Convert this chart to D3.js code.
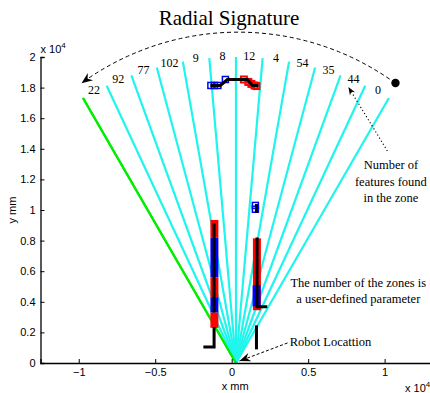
<!DOCTYPE html>
<html>
<head>
<meta charset="utf-8">
<script src="https://cdn.jsdelivr.net/npm/d3@7"></script>
<style>
  html, body { margin: 0; padding: 0; background: #fff; }
  svg { display: block; }
</style>
</head>
<body>
<script>
// ---------------- data (units: x 10^4 mm) ----------------
const xTicks = [-1, -0.5, 0, 0.5, 1];
const yTicks = [0, 0.2, 0.4, 0.6, 0.8, 1, 1.2, 1.4, 1.6, 1.8, 2];
const robot = [0.028, 0];
const rayRange = 2.0;
// zone boundary angles (degrees), left to right
const rayAngles = [120, 115, 110, 105, 100, 95, 90, 85, 80, 75, 70, 65, 60];
// number of features found in each zone, left to right
const zoneCounts = [22, 92, 77, 102, 9, 8, 12, 4, 54, 35, 44, 0];

// map walls (black)
const walls = [
  [[-0.139, 1.814], [-0.074, 1.814], [-0.028, 1.853], [0.103, 1.853], [0.136, 1.814], [0.175, 1.814]],
  [[-0.115, 0.912], [-0.115, 0.33]],
  [[-0.115, 0.235], [-0.115, 0.105], [-0.185, 0.105]],
  [[0.166, 0.821], [0.166, 0.368], [0.233, 0.368]],
  [[0.162, 0.246], [0.162, 0.089]],
  [[0.162, 1.039], [0.162, 0.980]]
];
// dense scan point clusters along the walls: [x, yTop, yBottom, colour]
const scanBands = [
  [-0.113, 0.935, 0.82, "red"],
  [-0.113, 0.82, 0.56, "blue"],
  [-0.113, 0.56, 0.43, "red"],
  [-0.113, 0.43, 0.33, "blue"],
  [-0.113, 0.33, 0.23, "red"],
  [0.165, 0.815, 0.345, "red"],
  [0.163, 0.507, 0.37, "blue"]
];
// individual scan points (square markers)
const bluePoints = [[-0.136, 1.814], [-0.113, 1.814], [-0.090, 1.814], [-0.041, 1.853], [0.155, 1.030], [0.155, 1.005]];
const redPoints = [[0.080, 1.853], [0.109, 1.837], [0.129, 1.824], [0.149, 1.814], [0.162, 1.810]];

// annotations
const sweepArc = { cx: 0.044, cy: 0.418, r: 1.745, a0: 54, a1: 126 };
const sweepDot = [1.071, 1.830];
const featArrow = [[1.018, 1.386], [0.763, 1.804]];
const robotArrow = [[0.365, 0.131], [0.051, 0.013]];
const featText = { pos: [1.041, 1.265], lines: ["Number of", "features found", "in the zone"] };
const zonesText = { pos: [0.828, 0.497], lines: ["The number of the zones is", "a user-defined parameter"] };
const robotText = { pos: [0.379, 0.111], lines: ["Robot Locattion"] };

// ---------------- drawing ----------------
const W = 430, H = 393;
const svg = d3.select("body").append("svg").attr("width", W).attr("height", H);
const x = d3.scaleLinear().domain([-1.25, 1.3]).range([40.5, 430.5]);
const y = d3.scaleLinear().domain([0, 2]).range([363, 57]);
const pxPerUnit = x(1) - x(0);
const serif = "'Liberation Serif', 'Times New Roman', serif";
const sans = "'Liberation Sans', Arial, Helvetica, sans-serif";

const defs = svg.append("defs");
defs.append("marker").attr("id", "ah").attr("markerUnits", "userSpaceOnUse")
  .attr("viewBox", "-12 -6 14 12").attr("markerWidth", 14).attr("markerHeight", 12)
  .attr("refX", 0).attr("refY", 0).attr("orient", "auto")
  .append("path").attr("d", "M0,0 L-11,-4.5 L-7.5,0 L-11,4.5 Z").attr("fill", "#000");
defs.append("marker").attr("id", "ahs").attr("markerUnits", "userSpaceOnUse")
  .attr("viewBox", "-10 -5 12 10").attr("markerWidth", 12).attr("markerHeight", 10)
  .attr("refX", 0).attr("refY", 0).attr("orient", "auto")
  .append("path").attr("d", "M0,0 L-8,-3 L-5.5,0 L-8,3 Z").attr("fill", "#000");

// title
svg.append("text").attr("x", 229).attr("y", 25).attr("text-anchor", "middle")
  .attr("font-family", serif).attr("font-size", 21).attr("fill", "#000").text("Radial Signature");

// rays
const rad = d => d * Math.PI / 180;
const rayEnd = a => [robot[0] + rayRange * Math.cos(rad(a)), robot[1] + rayRange * Math.sin(rad(a))];
svg.append("g").selectAll("line").data(rayAngles).join("line")
  .attr("x1", x(robot[0])).attr("y1", y(robot[1]))
  .attr("x2", a => x(rayEnd(a)[0])).attr("y2", a => y(rayEnd(a)[1]))
  .attr("stroke", (a, i) => i === 0 ? "#00ee00" : "#1ff5ec")
  .attr("stroke-width", 2.2);
// redraw green on top
svg.append("line").attr("x1", x(robot[0])).attr("y1", y(robot[1]))
  .attr("x2", x(rayEnd(rayAngles[0])[0])).attr("y2", y(rayEnd(rayAngles[0])[1]))
  .attr("stroke", "#00ee00").attr("stroke-width", 2.2);

// zone labels
const labR = 2.01;
svg.append("g").selectAll("text").data(zoneCounts).join("text")
  .attr("x", (c, i) => { const a = (rayAngles[i] + rayAngles[i + 1]) / 2; return x(robot[0] + labR * Math.cos(rad(a))); })
  .attr("y", (c, i) => { const a = (rayAngles[i] + rayAngles[i + 1]) / 2; return y(robot[1] + labR * Math.sin(rad(a))); })
  .attr("dy", "0.35em").attr("text-anchor", "middle")
  .attr("font-family", serif).attr("font-size", 12).attr("fill", "#000").text(d => d);

// scan bands
svg.append("g").selectAll("line").data(scanBands).join("line")
  .attr("x1", d => x(d[0])).attr("x2", d => x(d[0]))
  .attr("y1", d => y(d[1])).attr("y2", d => y(d[2]))
  .attr("stroke", d => d[3]).attr("stroke-width", 8);

// scan points
const sq = 6;
svg.append("g").selectAll("rect").data(bluePoints).join("rect")
  .attr("x", d => x(d[0]) - sq / 2).attr("y", d => y(d[1]) - sq / 2)
  .attr("width", sq).attr("height", sq).attr("fill", "none").attr("stroke", "blue").attr("stroke-width", 1.5);
svg.append("g").selectAll("rect").data(redPoints).join("rect")
  .attr("x", d => x(d[0]) - sq / 2).attr("y", d => y(d[1]) - sq / 2)
  .attr("width", sq).attr("height", sq).attr("fill", "none").attr("stroke", "red").attr("stroke-width", 2);

// walls
const line = d3.line().x(d => x(d[0])).y(d => y(d[1]));
svg.append("g").selectAll("path").data(walls).join("path")
  .attr("d", line).attr("fill", "none").attr("stroke", "#000").attr("stroke-width", 3);

// axes
const yAxis = d3.axisLeft(y).tickValues(yTicks).tickSize(-4).tickPadding(5).tickFormat(d3.format("~g"));
const xAxis = d3.axisBottom(x).tickValues(xTicks).tickSize(-4).tickPadding(5).tickFormat(d3.format("~g"));
const gy = svg.append("g").attr("transform", `translate(${x(-1.25)},0)`).call(yAxis);
const gx = svg.append("g").attr("transform", `translate(0,${y(0)})`).call(xAxis);
[gx, gy].forEach(g => {
  g.select(".domain").attr("stroke", "#000").attr("stroke-width", 1.3);
  g.selectAll(".tick line").attr("stroke", "#000");
  g.selectAll(".tick text").attr("font-family", sans).attr("font-size", 11).attr("fill", "#000");
});
// exponents
const expo = (tx, ty) => {
  const t = svg.append("text").attr("x", tx).attr("y", ty).attr("font-family", sans).attr("font-size", 11).attr("fill", "#000");
  t.append("tspan").text("x 10");
  t.append("tspan").attr("dy", -5).attr("font-size", 8).text("4");
};
expo(x(-1.25), 53);
expo(405, 392);
// axis labels
svg.append("text").attr("x", (x(-1.25) + 430) / 2).attr("y", 390).attr("text-anchor", "middle")
  .attr("font-family", sans).attr("font-size", 11).text("x mm");
svg.append("text").attr("transform", `translate(16,${(y(0) + y(2)) / 2}) rotate(-90)`).attr("text-anchor", "middle")
  .attr("font-family", sans).attr("font-size", 11).text("y mm");

// sweep arc with arrow
const cxp = x(sweepArc.cx), cyp = y(sweepArc.cy), rp = sweepArc.r * pxPerUnit;
const p = d3.path();
p.moveTo(cxp + rp * Math.cos(rad(-sweepArc.a0)), cyp + rp * Math.sin(rad(-sweepArc.a0)));
p.arc(cxp, cyp, rp, rad(-sweepArc.a0), rad(-sweepArc.a1), true);
svg.append("path").attr("d", p.toString()).attr("fill", "none").attr("stroke", "#000")
  .attr("stroke-width", 1).attr("stroke-dasharray", "4,3").attr("marker-end", "url(#ah)");
svg.append("circle").attr("cx", x(sweepDot[0])).attr("cy", y(sweepDot[1])).attr("r", 4.2).attr("fill", "#000");

// feature arrow (dotted)
svg.append("path").attr("d", line(featArrow)).attr("fill", "none").attr("stroke", "#000")
  .attr("stroke-width", 1.1).attr("stroke-dasharray", "1.2,2.4").attr("marker-end", "url(#ahs)");
// robot arrow (dashed)
svg.append("path").attr("d", line(robotArrow)).attr("fill", "none").attr("stroke", "#000")
  .attr("stroke-width", 1).attr("stroke-dasharray", "3,2").attr("marker-end", "url(#ah)");

// annotation texts
const addText = (o, anchor) => {
  const t = svg.append("text").attr("x", x(o.pos[0])).attr("y", y(o.pos[1]))
    .attr("text-anchor", anchor).attr("font-family", serif).attr("font-size", 12.5).attr("fill", "#000");
  o.lines.forEach((s, i) => t.append("tspan").attr("x", x(o.pos[0])).attr("dy", i === 0 ? 0 : "1.3em").text(s));
};
addText(featText, "middle");
addText(zonesText, "middle");
addText(robotText, "start");
</script>
</body>
</html>
